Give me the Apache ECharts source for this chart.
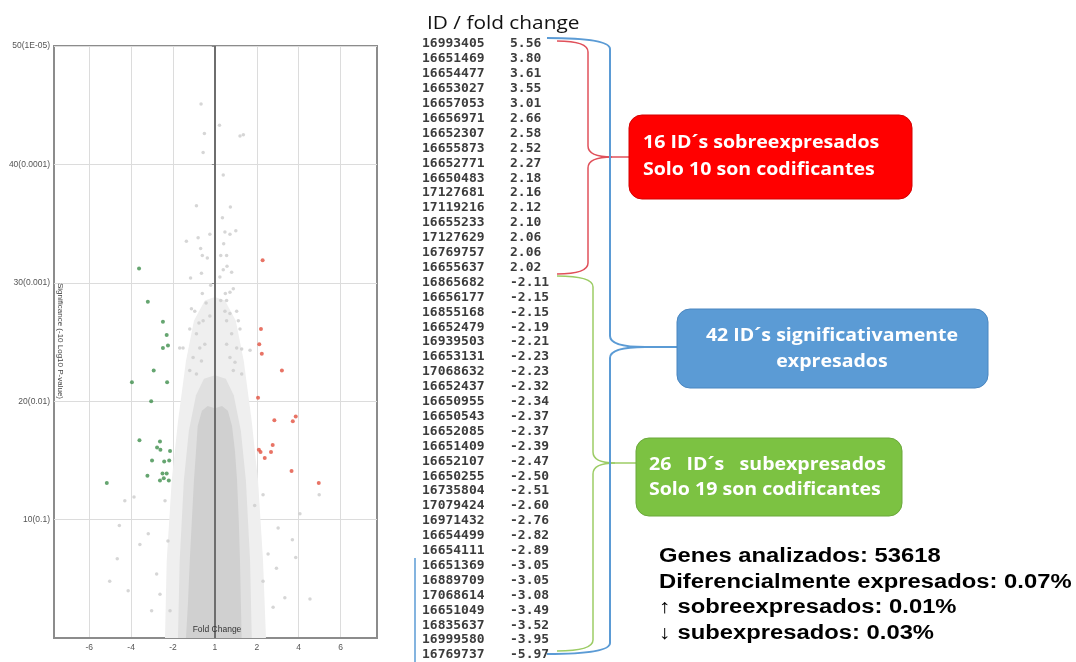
<!DOCTYPE html>
<html>
<head>
<meta charset="utf-8">
<title>Volcano plot - ID / fold change</title>
<script src="https://cdn.jsdelivr.net/npm/echarts@6/dist/echarts.min.js"></script>
<style>
  html, body { margin: 0; padding: 0; background: #fff; }
  #main { width: 1076px; height: 662px; }
</style>
</head>
<body>
<div id="main"></div>
<script>
// ---- volcano plot data (x = position on the folded fold-change axis, y = -10 log10 p) ----
var xTickValues = [-3, -2, -1, 0, 1, 2, 3];
var xTickLabels = ['-6', '-4', '-2', '1', '2', '4', '6'];
var yTickLabels = { 10: '10(0.1)', 20: '20(0.01)', 30: '30(0.001)', 40: '40(0.0001)', 50: '50(1E-05)' };

var upRegulated = [[1.14,31.9],[1.10,26.1],[1.06,24.8],[1.12,24.0],[1.60,22.6],[1.03,20.3],[1.42,18.4],[1.93,18.7],
  [1.86,18.3],[1.38,16.3],[1.05,15.9],[1.09,15.7],[1.34,15.7],[1.19,15.2],[1.83,14.1],[2.48,13.1]];
var downRegulated = [[-1.81,31.2],[-1.60,28.4],[-1.24,26.7],[-1.15,25.6],[-1.24,24.5],[-1.12,24.7],[-1.46,22.6],
  [-1.98,21.6],[-1.14,21.6],[-1.52,20.0],[-1.80,16.7],[-1.31,16.6],[-1.38,16.1],[-1.30,15.9],[-1.07,15.8],
  [-1.50,15.0],[-1.21,14.9],[-1.09,15.0],[-1.61,13.7],[-1.25,13.9],[-1.15,13.9],[-1.22,13.5],[-1.31,13.3],
  [-1.10,13.3],[-2.58,13.1]];
var otherGenes = [[-0.33,45.1],[-0.25,42.6],[-0.28,41.0],[0.11,43.3],[0.60,42.4],[0.68,42.5],[0.20,39.1],
  [-0.44,36.5],[0.37,36.4],[0.18,35.5],[-0.12,34.1],[-0.40,33.8],[-0.68,33.5],[0.24,34.3],[0.36,34.1],[0.50,34.4],
  [0.21,33.3],[-0.34,32.9],[-0.30,32.3],[-0.18,32.1],[0.14,32.3],[0.28,32.3],[0.29,31.4],[0.20,31.1],[0.40,30.9],
  [-0.32,30.8],[-0.58,30.4],[-0.10,29.8],[0.12,30.5],[-0.30,29.1],[-0.21,28.3],[0.25,29.1],[0.36,29.2],[0.44,29.5],
  [0.14,28.5],[0.28,28.5],[-0.56,27.8],[-0.48,27.6],[-0.12,27.2],[0.24,27.6],[0.36,27.4],[0.52,27.6],[-0.38,26.6],
  [-0.28,26.8],[0.28,26.8],[0.56,26.8],[-0.60,26.1],[-0.44,25.7],[0.60,26.1],[0.40,25.7],[-0.84,24.5],[-0.76,24.5],
  [-0.36,24.5],[-0.24,24.8],[0.28,24.8],[0.52,24.5],[0.64,24.4],[-0.52,23.7],[-0.32,23.4],[0.36,23.7],[0.48,23.3],
  [-0.60,22.6],[-0.44,22.3],[0.44,22.6],[0.64,22.3],[0.84,24.3],
  [-1.93,11.9],[-2.15,11.6],[-2.28,9.5],[-2.33,6.7],[-2.51,4.8],[-2.07,4.0],[-1.79,7.9],[-1.59,8.8],[1.85,8.3],
  [1.93,6.8],[2.27,3.3],[1.67,3.4],[1.39,2.6],[2.49,12.1],[1.51,9.3],[2.03,10.5],[1.15,12.1],[1.47,5.9],
  [-1.39,5.4],[-1.31,3.7],[-1.51,2.3],[1.15,4.8],[1.27,7.1],[-1.19,11.6],[-1.12,8.2],[-1.07,2.3],[0.95,11.2]];
// outlines of the dense grey cloud of non-significant genes
var outerCloud = [[-1.19,0],[-1.15,6.5],[-1.03,13.3],[-0.88,18.3],[-0.69,23.4],[-0.50,26.8],[-0.24,28.5],[0,28.8],
  [0.24,28.5],[0.50,26.8],[0.69,23.4],[0.88,18.3],[1.03,13.3],[1.15,6.5],[1.22,0]];
var innerCloud = [[-0.88,0],[-0.84,6.5],[-0.74,13.3],[-0.62,17.5],[-0.45,20.5],[-0.26,21.9],[0,22.2],[0.26,21.9],
  [0.45,20.5],[0.62,17.5],[0.74,13.3],[0.84,6.5],[0.88,0]];
var coreCloud = [[-0.69,0],[-0.64,3.1],[-0.60,6.5],[-0.55,9.9],[-0.50,13.3],[-0.45,15.8],[-0.41,17.9],[-0.31,19.2],
  [-0.17,19.6],[0,19.4],[0.17,19.6],[0.31,19.2],[0.41,17.9],[0.48,15.8],[0.53,13.3],[0.57,9.9],[0.60,6.5],
  [0.62,3.1],[0.64,0]];

// ---- table ----
var ids = ['16993405','16651469','16654477','16653027','16657053','16656971','16652307','16655873','16652771',
  '16650483','17127681','17119216','16655233','17127629','16769757','16655637','16865682','16656177','16855168',
  '16652479','16939503','16653131','17068632','16652437','16650955','16650543','16652085','16651409','16652107',
  '16650255','16735804','17079424','16971432','16654499','16654111','16651369','16889709','17068614','16651049',
  '16835637','16999580','16769737'];
var foldChanges = [5.56,3.80,3.61,3.55,3.01,2.66,2.58,2.52,2.27,2.18,2.16,2.12,2.10,2.06,2.06,2.02,
  -2.11,-2.15,-2.15,-2.19,-2.21,-2.23,-2.23,-2.32,-2.34,-2.37,-2.37,-2.39,-2.47,-2.50,-2.51,-2.60,-2.76,-2.82,
  -2.89,-3.05,-3.05,-3.08,-3.49,-3.52,-3.95,-5.97];

var redBoxLines = ['16 ID\u00b4s sobreexpresados', 'Solo 10 son codificantes'];
var blueBoxLines = ['42 ID\u00b4s significativamente', 'expresados'];
var greenBoxLines = ['26   ID\u00b4s   subexpresados', 'Solo 19 son codificantes'];
var summaryLines = ['Genes analizados: 53618', 'Diferencialmente expresados: 0.07%',
  '\u2191 sobreexpresados: 0.01%', '\u2193 subexpresados: 0.03%'];

var chart = echarts.init(document.getElementById('main'));

function cloud(points, color) {
  return {
    type: 'custom',
    silent: true,
    data: [[0, 0]],
    renderItem: function (params, api) {
      return {
        type: 'polygon',
        shape: { points: points.map(function (p) { return api.coord(p); }) },
        style: { fill: color }
      };
    }
  };
}

var graphics = [];
var smallFont = '"Liberation Sans Narrow", "Liberation Sans", sans-serif';

// axis titles sit inside the plot frame, above the grey cloud
graphics.push({ type: 'text', x: 60, y: 341, z: 100, rotation: -Math.PI / 2,
  style: { text: 'Significance (-10 Log10 P-value)', font: '8px ' + smallFont, fill: '#444', align: 'center', verticalAlign: 'middle' } });
graphics.push({ type: 'text', x: 217, y: 630, z: 100,
  style: { text: 'Fold Change', font: '8.5px ' + smallFont, fill: '#333', align: 'center', verticalAlign: 'middle' } });

// curly brace: starts at (L,T), runs down x=X, tip at (R,M), ends at (L,B), then a stub to the box
function brace(L, X, T, M, B, R, boxX, color, w) {
  var st = { stroke: color, lineWidth: w, fill: null };
  var c = 11;
  graphics.push({ type: 'bezierCurve', shape: { x1: L, y1: T, cpx1: X, cpy1: T, x2: X, y2: T + c }, style: st });
  graphics.push({ type: 'line', shape: { x1: X, y1: T + c, x2: X, y2: M - c }, style: st });
  graphics.push({ type: 'bezierCurve', shape: { x1: X, y1: M - c, cpx1: X, cpy1: M, x2: R, y2: M }, style: st });
  graphics.push({ type: 'bezierCurve', shape: { x1: R, y1: M, cpx1: X, cpy1: M, x2: X, y2: M + c }, style: st });
  graphics.push({ type: 'line', shape: { x1: X, y1: M + c, x2: X, y2: B - c }, style: st });
  graphics.push({ type: 'bezierCurve', shape: { x1: X, y1: B - c, cpx1: X, cpy1: B, x2: L, y2: B }, style: st });
  graphics.push({ type: 'line', shape: { x1: R, y1: M, x2: boxX, y2: M }, style: st });
}

var rowTop = 44.5, rowStep = 14.9;
graphics.push({ type: 'text', x: 427, y: 24, scaleX: 1.19,
  style: { text: 'ID / fold change', font: '17.5px "Open Sans"', fill: '#111', verticalAlign: 'middle' } });
ids.forEach(function (id, i) {
  var y = rowTop + i * rowStep;
  graphics.push({ type: 'text', x: 422, y: y, scaleX: 1.13,
    style: { text: id, font: 'bold 11.5px "DejaVu Sans Mono"', fill: '#3c3c3c', verticalAlign: 'middle' } });
  graphics.push({ type: 'text', x: 510, y: y, scaleX: 1.13,
    style: { text: foldChanges[i].toFixed(2), font: 'bold 11.5px "DejaVu Sans Mono"', fill: '#3c3c3c', verticalAlign: 'middle' } });
});

brace(557, 588, 41, 157, 274, 612, 629, '#e0505a', 1.5);
brace(557, 593, 276, 463, 651, 615, 636, '#9ccc65', 1.5);
brace(547, 610, 38, 347, 654, 645, 677, '#5b9bd5', 2);
graphics.push({ type: 'line', shape: { x1: 415, y1: 558, x2: 415, y2: 662 }, style: { stroke: '#5b9bd5', lineWidth: 1.5 } });

// boxes
graphics.push({ type: 'rect', shape: { x: 629, y: 115, width: 283, height: 84, r: 13 }, style: { fill: '#ff0000', stroke: '#d40000', lineWidth: 1 } });
graphics.push({ type: 'rect', shape: { x: 677, y: 309, width: 311, height: 79, r: 13 }, style: { fill: '#5b9bd5', stroke: '#4a86c0', lineWidth: 1 } });
graphics.push({ type: 'rect', shape: { x: 636, y: 438, width: 266, height: 78, r: 13 }, style: { fill: '#7cc242', stroke: '#6aa83a', lineWidth: 1 } });
var boxFont = 'bold 17px "Open Sans"';
redBoxLines.forEach(function (t, i) {
  graphics.push({ type: 'text', x: 643, y: 143 + i * 27, scaleX: 1.15, style: { text: t, font: boxFont, fill: '#fff', verticalAlign: 'middle' } });
});
blueBoxLines.forEach(function (t, i) {
  graphics.push({ type: 'text', x: 832, y: 336 + i * 26, scaleX: 1.15, style: { text: t, font: boxFont, fill: '#fff', align: 'center', verticalAlign: 'middle' } });
});
greenBoxLines.forEach(function (t, i) {
  graphics.push({ type: 'text', x: 649, y: 465 + i * 25, scaleX: 1.15, style: { text: t, font: boxFont, fill: '#fff', verticalAlign: 'middle' } });
});
summaryLines.forEach(function (t, i) {
  graphics.push({ type: 'text', x: 659, y: 557 + i * 25.5, scaleX: 1.22,
    style: { text: t, font: 'bold 19.5px "Liberation Sans"', fill: '#000', verticalAlign: 'middle' } });
});

var option = {
  animation: false,
  backgroundColor: '#fff',
  grid: { left: 54, top: 46, width: 323, height: 592, show: true, borderColor: '#8c8c8c', borderWidth: 2,
    outerBoundsMode: 'none' },
  xAxis: {
    type: 'value', min: -3.84, max: 3.87,
    axisLine: { lineStyle: { color: '#8c8c8c', width: 2 } },
    axisTick: { show: false, customValues: xTickValues },
    axisLabel: { customValues: xTickValues, margin: 5, fontSize: 8.5, color: '#555', fontFamily: smallFont,
      formatter: function (v) { var k = xTickValues.indexOf(Math.round(v)); return k >= 0 ? xTickLabels[k] : ''; } },
    splitLine: { show: true, lineStyle: { color: '#dcdcdc', width: 1 } }
  },
  yAxis: {
    type: 'value', min: 0, max: 50, interval: 10,
    axisLine: { show: true, lineStyle: { color: '#8c8c8c', width: 2 } },
    axisTick: { show: true, length: 3, lineStyle: { color: '#8c8c8c' } },
    axisLabel: { margin: 4, fontSize: 8.5, color: '#555', fontFamily: smallFont,
      formatter: function (v) { return yTickLabels[v] || ''; } },
    splitLine: { show: true, lineStyle: { color: '#dcdcdc', width: 1 } }
  },
  series: [
    cloud(outerCloud, '#efefef'),
    cloud(innerCloud, '#e0e0e0'),
    cloud(coreCloud, '#d0d0d0'),
    {
      type: 'scatter', data: otherGenes, symbolSize: 3.5, silent: true,
      itemStyle: { color: '#cccccc' },
      markLine: { silent: true, symbol: 'none', label: { show: false },
        lineStyle: { color: '#6e6e6e', width: 2, type: 'solid' }, data: [{ xAxis: 0 }] }
    },
    { type: 'scatter', data: downRegulated, symbolSize: 4, itemStyle: { color: '#3f8f4c' } },
    { type: 'scatter', data: upRegulated, symbolSize: 4, itemStyle: { color: '#e2503e' } }
  ],
  graphic: graphics
};
chart.setOption(option);
</script>
</body>
</html>
